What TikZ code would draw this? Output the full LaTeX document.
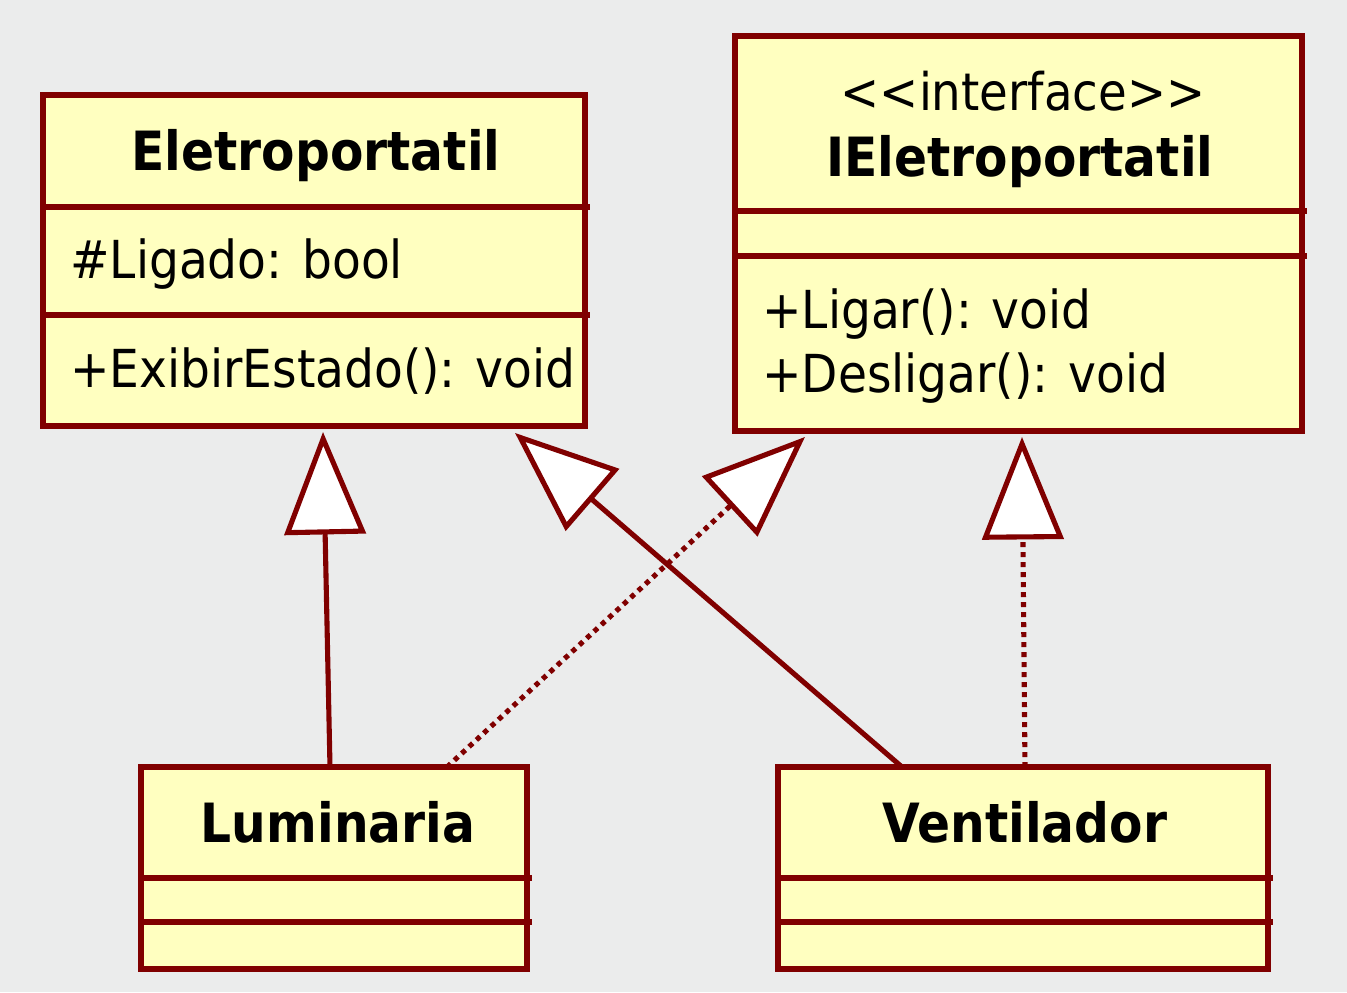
\documentclass[tikz,border=0pt]{standalone}
\usepackage{fontspec}
\setmainfont{DejaVu Sans Condensed}
\usepackage{tikz}
\usetikzlibrary{arrows.meta, calc}

\definecolor{umlred}{RGB}{128,0,0}
\definecolor{umlfill}{RGB}{255,255,192}
\definecolor{bggray}{RGB}{235,236,236}

\begin{document}
\begin{tikzpicture}[
    x=0.02cm, y=-0.02cm,
    % Style definitions
    classbox/.style={
        rectangle, draw=umlred, fill=umlfill, line width=3.1pt,
        inner sep=0pt, outer sep=0pt
    },
    divider/.style={
        draw=umlred, line width=3.1pt
    },
    classname/.style={
        font=\fontsize{30.8}{36}\selectfont\bfseries, anchor=base
    },
    stereotype/.style={
        font=\fontsize{29.5}{35}\selectfont, anchor=base
    },
    member/.style={
        font=\fontsize{29.8}{35}\selectfont, anchor=base west, inner sep=0pt
    },
    generalization/.style={
        draw=umlred, line width=2.9pt,
        -{Triangle[length=2.05cm, width=1.62cm, fill=white]}
    },
    realization/.style={
        generalization, dash pattern=on 0.1cm off 0.1cm
    },
]

% Background
\fill[bggray] (0,0) rectangle (1347,992);

% === Class boxes ===
\node[classbox, minimum width=10.84cm, minimum height=6.62cm] (elet) at (314,260.5) {};
\node[classbox, minimum width=11.34cm, minimum height=7.90cm] (iele) at (1018.5,233.5) {};
\node[classbox, minimum width=7.72cm, minimum height=4.04cm] (lum) at (334,868) {};
\node[classbox, minimum width=9.80cm, minimum height=4.04cm] (vent) at (1023,868) {};

% === Eletroportatil ===
\node[classname] (eletname) at (316,170) {Eletroportatil};
\draw[divider] (elet.west |- 0,207) -- ($(elet.east |- 0,207)+(5,0)$);
\draw[divider] (elet.west |- 0,315) -- ($(elet.east |- 0,315)+(5,0)$);
\node[member] (ligado) at (70,278) {\#Ligado: bool};
\node[member] (exibir) at (70,387) {+ExibirEstado(): void};

% === IEletroportatil ===
\node[stereotype] (ster) at (1023,110) {<{}<interface>{}>};
\node[classname] (ielename) at (1020,176) {IEletroportatil};
\draw[divider] (iele.west |- 0,211) -- ($(iele.east |- 0,211)+(5,0)$);
\draw[divider] (iele.west |- 0,256) -- ($(iele.east |- 0,256)+(5,0)$);
\node[member] (ligar) at (762,328) {+Ligar(): void};
\node[member] (desligar) at (762,392) {+Desligar(): void};

% === Luminaria ===
\node[classname] (lumname) at (338,842) {Luminaria};
\draw[divider] (lum.west |- 0,878) -- ($(lum.east |- 0,878)+(5,0)$);
\draw[divider] (lum.west |- 0,922) -- ($(lum.east |- 0,922)+(5,0)$);

% === Ventilador ===
\node[classname] (ventname) at (1025,842) {Ventilador};
\draw[divider] (vent.west |- 0,878) -- ($(vent.east |- 0,878)+(5,0)$);
\draw[divider] (vent.west |- 0,922) -- ($(vent.east |- 0,922)+(5,0)$);

% === Inheritance / realization ===
\draw[generalization] ($(lum.north)+(-4,0)$) -- ($(elet.south)+(9,6)$);
\draw[generalization] ($(vent.north)+(-121,0)$) -- ($(elet.south)+(201,7)$);
\draw[realization] ($(lum.north)+(113,0)$) -- ($(iele.south)+(-213.5,6)$);
\draw[realization] ($(vent.north)+(2,0)$) -- ($(iele.south)+(3.5,6)$);

\end{tikzpicture}
\end{document}
